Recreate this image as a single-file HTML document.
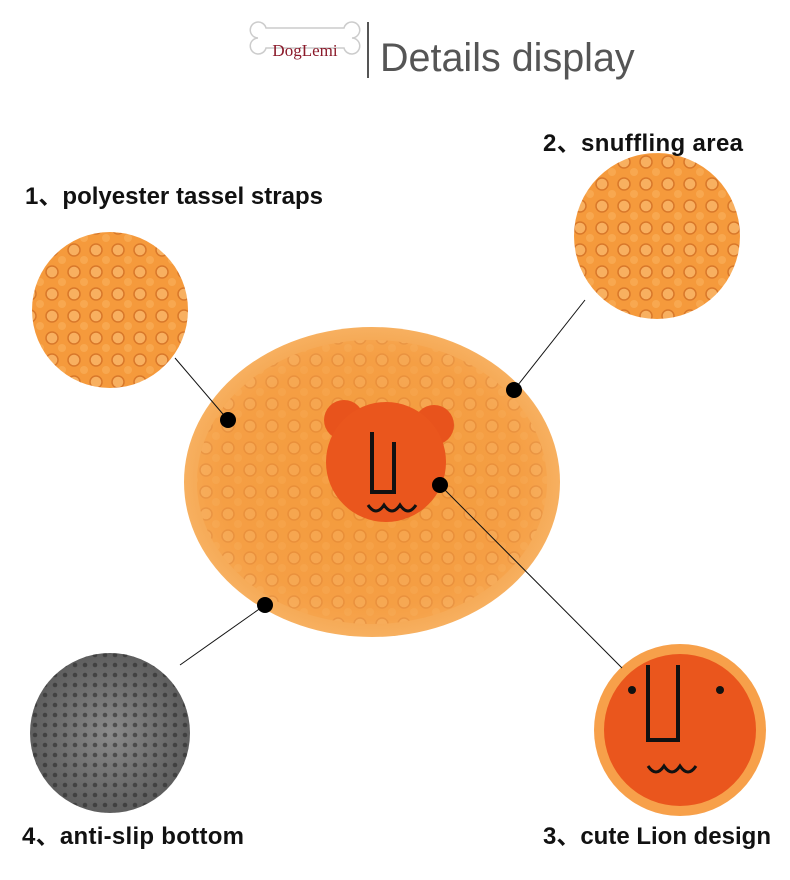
<!DOCTYPE html>
<html><head><meta charset="utf-8"><style>
body{margin:0;background:#fff;width:790px;height:875px;overflow:hidden;font-family:"Liberation Sans","Noto Sans CJK SC",sans-serif}
</style></head><body>
<svg width="790" height="875" viewBox="0 0 790 875" xmlns="http://www.w3.org/2000/svg">
<defs>
<radialGradient id="mane" cx="50%" cy="50%" r="50%"><stop offset="0" stop-color="#f39a3a"/><stop offset="0.8" stop-color="#f5a24a"/><stop offset="1" stop-color="#f7b060"/></radialGradient>
<radialGradient id="gray" cx="50%" cy="50%" r="50%"><stop offset="0" stop-color="#8a8a8a"/><stop offset="1" stop-color="#5e5e5e"/></radialGradient>
<pattern id="dots" width="10" height="10" patternUnits="userSpaceOnUse"><circle cx="5" cy="5" r="2.3" fill="#2a2a2a"/></pattern>
<pattern id="tas" width="22" height="22" patternUnits="userSpaceOnUse"><rect width="22" height="22" fill="#f59a3c"/><circle cx="8" cy="8" r="6" fill="#f8b060" stroke="#d9782a" stroke-width="1.5"/><circle cx="18" cy="18" r="4" fill="#f8a850"/></pattern>
</defs>
<path d="M258 38 a8 8 0 1 1 8 -10 h78 a8 8 0 1 1 8 10 a8 8 0 1 1 -8 10 h-78 a8 8 0 1 1 -8 -10z" fill="#fff" stroke="#ccc" stroke-width="1.5"/>
<text x="305" y="56" font-family="Liberation Serif,serif" font-size="17" fill="#8b1a2a" text-anchor="middle">DogLemi</text>
<line x1="368" y1="22" x2="368" y2="78" stroke="#555" stroke-width="2"/>
<text x="380" y="71" font-size="39.5" fill="#555">Details display</text>
<ellipse cx="372" cy="482" rx="188" ry="155" fill="url(#mane)"/>
<ellipse cx="372" cy="482" rx="175" ry="142" fill="url(#tas)" opacity="0.4"/>
<circle cx="344" cy="420" r="20" fill="#e8531c"/><circle cx="434" cy="425" r="20" fill="#e8531c"/>
<circle cx="386" cy="462" r="60" fill="#ea561d"/>
<path d="M372 432 v60 h22 v-50" stroke="#111" stroke-width="4" fill="none"/>
<path d="M368 505 q8 12 16 0 q8 12 16 0 q8 12 16 0" stroke="#111" stroke-width="3" fill="none"/>
<circle cx="110" cy="310" r="78" fill="url(#tas)"/>
<circle cx="657" cy="236" r="83" fill="url(#tas)"/>
<circle cx="680" cy="730" r="86" fill="#f7a04a"/>
<circle cx="680" cy="730" r="76" fill="#ea561d"/>
<path d="M648 665 v75 h30 v-75" stroke="#111" stroke-width="4" fill="none"/>
<circle cx="632" cy="690" r="4" fill="#111"/><circle cx="720" cy="690" r="4" fill="#111"/>
<path d="M648 766 q8 12 16 0 q8 12 16 0 q8 12 16 0" stroke="#111" stroke-width="3" fill="none"/>
<circle cx="110" cy="733" r="80" fill="url(#gray)"/>
<circle cx="110" cy="733" r="80" fill="url(#dots)" opacity="0.6"/>
<g stroke="#111" stroke-width="1">
<line x1="228" y1="420" x2="175" y2="358"/>
<line x1="514" y1="390" x2="585" y2="300"/>
<line x1="265" y1="605" x2="180" y2="665"/>
<line x1="440" y1="485" x2="622" y2="668"/>
</g>
<g fill="#000">
<circle cx="228" cy="420" r="8"/><circle cx="514" cy="390" r="8"/>
<circle cx="265" cy="605" r="8"/><circle cx="440" cy="485" r="8"/>
</g>
<g font-size="24" font-weight="bold" fill="#111">
<text x="25" y="204" textLength="298">1、polyester tassel straps</text>
<text x="543" y="151" textLength="200">2、snuffling area</text>
<text x="22" y="844" textLength="222">4、anti-slip bottom</text>
<text x="543" y="844" textLength="228">3、cute Lion design</text>
</g>
</svg>
</body></html>
